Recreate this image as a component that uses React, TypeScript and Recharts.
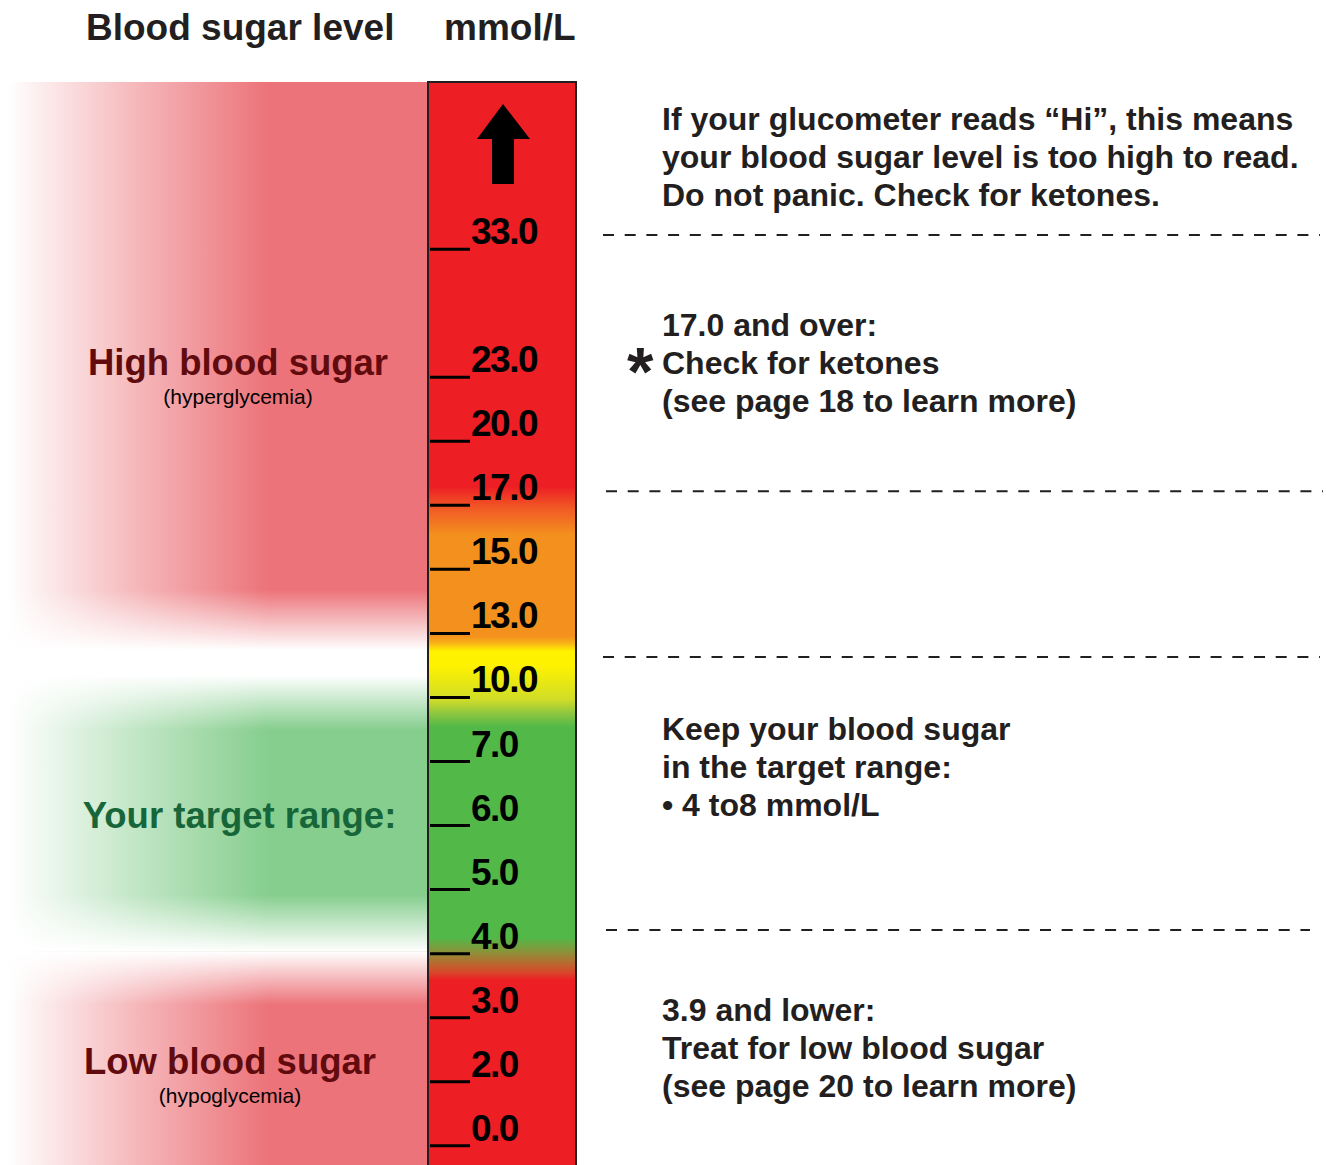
import React from 'react';
import {
  ComposedChart,
  XAxis,
  YAxis,
  Scatter,
  ReferenceArea,
  ReferenceLine,
  ReferenceDot,
} from 'recharts';

// marks on the meter, evenly spaced (one empty slot between 23.0 and 33.0)
const LEVEL_LABELS = ['0.0', '2.0', '3.0', '4.0', '5.0', '6.0', '7.0', '10.0', '13.0', '15.0', '17.0', '20.0', '23.0', '33.0'];
const LEVEL_SLOTS = [0, 1, 2, 3, 4, 5, 6, 7, 8, 9, 10, 11, 12, 14];

const ZONE_TITLES = ['High blood sugar', 'Your target range:', 'Low blood sugar'];
const ZONE_SUBTITLES = ['(hyperglycemia)', '', '(hypoglycemia)'];
const ZONE_FROM = [7.74, 3.03, -0.3];
const ZONE_TO = [16.61, 7.35, 3.03];

const SEPARATORS = [14.22, 10.22, 7.63, 3.37];

const NOTES = [
  ['If your glucometer reads “Hi”, this means', 'your blood sugar level is too high to read.', 'Do not panic. Check for ketones.'],
  ['17.0 and over:', '*Check for ketones', '(see page 18 to learn more)'],
  ['Keep your blood sugar', 'in the target range:', '• 4 to8 mmol/L'],
  ['3.9 and lower:', 'Treat for low blood sugar', '(see page 20 to learn more)'],
];

// meter colour, from top to bottom
const METER_SLOTS = [16.61, 10.29, 9.95, 9.54, 7.96, 7.86, 7.72, 7.5, 6.96, 6.75, 6.54, 3.25, 3.01, 2.82, 2.7, 2.59, -0.4];
const METER_COLORS = ['#ED1F24', '#ED1F24', '#F15A25', '#F3901E', '#F3901E', '#F9AE18', '#FFF200', '#FFF200', '#CFDC28', '#8DC63F', '#52B848', '#52B848', '#8F8F38', '#C0622D', '#D9452A', '#ED1F24', '#ED1F24'];

const W = 1326;
const H = 1165;
const Y_DOMAIN: [number, number] = [-0.3, 17.89];
const FONT = '"Liberation Sans", Arial, Helvetica, sans-serif';
const INK = '#231F20';

const METER_LEFT = 428;
const METER_RIGHT = 576;
const BAND_LEFT = 8;
const ZONE_FILL = ['#EC7379', '#86CE8E', '#EC7379'];
const ZONE_INK = ['#620B0E', '#17663A', '#620B0E'];
const ZONE_LABEL_X = [238, 239.5, 230];
const ZONE_LABEL_AT = [12.03, 4.96, 1.12];
const NOTE_X = 662;
const NOTE_AT = [15.86, 12.64, 6.33, 1.95];
const SEP_SPANS = [[603, 1320], [606, 1323], [603, 1320], [606, 1310]];

const tickRows = LEVEL_LABELS.map((label, i) => ({ x: METER_LEFT + 2, slot: LEVEL_SLOTS[i], label }));

const TickMark = (props: any) => {
  const { cx, cy, payload } = props;
  return (
    <g>
      <line x1={cx} x2={cx + 40} y1={cy} y2={cy} stroke="#000" strokeWidth={3} />
      <text x={cx + 41} y={cy - 5} fontFamily={FONT} fontWeight="bold" fontSize={37} letterSpacing={-1.5} fill="#000">
        {payload.label}
      </text>
    </g>
  );
};

const Arrow = (props: any) => {
  const { cx, cy } = props;
  const pts = [
    [cx, cy - 40], [cx + 27, cy - 5], [cx + 11, cy - 5], [cx + 11, cy + 40],
    [cx - 11, cy + 40], [cx - 11, cy - 5], [cx - 26, cy - 5],
  ].map((p) => p.join(',')).join(' ');
  return <polygon points={pts} fill="#000" />;
};

const headerText = (text: string) => (props: any) => (
  <text x={props.cx} y={props.cy} fontFamily={FONT} fontWeight="bold" fontSize={37} fill={INK}>
    {text}
  </text>
);

const zoneLabel = (i: number) => (props: any) => (
  <g>
    <text x={props.cx} y={props.cy} textAnchor="middle" fontFamily={FONT} fontWeight="bold" fontSize={36.5} fill={ZONE_INK[i]}>
      {ZONE_TITLES[i]}
    </text>
    {ZONE_SUBTITLES[i] && (
      <text x={props.cx} y={props.cy + 29} textAnchor="middle" fontFamily={FONT} fontSize={21} fill="#000">
        {ZONE_SUBTITLES[i]}
      </text>
    )}
  </g>
);

const noteBlock = (lines: string[]) => (props: any) => (
  <g>
    {lines.map((line, j) => {
      const starred = line.startsWith('*');
      return (
        <g key={j}>
          {starred && (
            <text x={props.cx - 35} y={props.cy + j * 38 + 21} fontFamily={FONT} fontWeight="bold" fontSize={68} fill={INK}>
              *
            </text>
          )}
          <text x={props.cx} y={props.cy + j * 38} fontFamily={FONT} fontWeight="bold" fontSize={32} fill={INK}>
            {starred ? line.slice(1) : line}
          </text>
        </g>
      );
    })}
  </g>
);

export default function App() {
  const meterTop = METER_SLOTS[0];
  const meterBottom = METER_SLOTS[METER_SLOTS.length - 1];
  return (
    <div style={{ position: 'absolute', left: 0, top: 0, background: '#fff' }}>
      <ComposedChart width={W} height={H} margin={{ top: 0, right: 0, bottom: 0, left: 0 }}>
        <defs>
          <linearGradient id="meter" x1="0" y1="0" x2="0" y2="1">
            {METER_SLOTS.map((s, i) => (
              <stop key={i} offset={(meterTop - s) / (meterTop - meterBottom)} stopColor={METER_COLORS[i]} />
            ))}
          </linearGradient>
          {ZONE_FILL.map((c, i) => (
            <linearGradient key={i} id={`zone${i}`} x1="0" y1="0" x2="1" y2="0">
              <stop offset={0} stopColor={c} stopOpacity={0} />
              <stop offset={0.3} stopColor={c} stopOpacity={0.5} />
              <stop offset={0.62} stopColor={c} stopOpacity={1} />
              <stop offset={1} stopColor={c} stopOpacity={1} />
            </linearGradient>
          ))}
          <linearGradient id="fadeDown" x1="0" y1="0" x2="0" y2="1">
            <stop offset={0} stopColor="#fff" stopOpacity={0} />
            <stop offset={1} stopColor="#fff" stopOpacity={1} />
          </linearGradient>
          <linearGradient id="fadeUp" x1="0" y1="0" x2="0" y2="1">
            <stop offset={0} stopColor="#fff" stopOpacity={1} />
            <stop offset={1} stopColor="#fff" stopOpacity={0} />
          </linearGradient>
        </defs>
        <XAxis type="number" dataKey="x" domain={[0, W]} hide allowDataOverflow />
        <YAxis type="number" dataKey="slot" domain={Y_DOMAIN} hide allowDataOverflow />

        {ZONE_TITLES.map((_, i) => (
          <ReferenceArea
            key={`z${i}`}
            x1={BAND_LEFT}
            x2={METER_LEFT}
            y1={ZONE_FROM[i]}
            y2={ZONE_TO[i]}
            fill={`url(#zone${i})`}
            fillOpacity={1}
            stroke="none"
          />
        ))}
        {/* soft edges of the zones */}
        <ReferenceArea x1={BAND_LEFT} x2={METER_LEFT} y1={7.74} y2={8.68} fill="url(#fadeDown)" fillOpacity={1} stroke="none" />
        <ReferenceArea x1={BAND_LEFT} x2={METER_LEFT} y1={6.49} y2={7.35} fill="url(#fadeUp)" fillOpacity={1} stroke="none" />
        <ReferenceArea x1={BAND_LEFT} x2={METER_LEFT} y1={3.03} y2={3.92} fill="url(#fadeDown)" fillOpacity={1} stroke="none" />
        <ReferenceArea x1={BAND_LEFT} x2={METER_LEFT} y1={2.2} y2={3.03} fill="url(#fadeUp)" fillOpacity={1} stroke="none" />

        <ReferenceArea
          x1={METER_LEFT}
          x2={METER_RIGHT}
          y1={meterBottom}
          y2={meterTop}
          ifOverflow="hidden"
          fill="url(#meter)"
          fillOpacity={1}
          stroke={INK}
          strokeWidth={2}
        />
        <ReferenceDot x={503} y={15.64} r={1} shape={Arrow} />

        {SEPARATORS.map((s, i) => (
          <ReferenceLine
            key={`s${i}`}
            segment={[{ x: SEP_SPANS[i][0], y: s }, { x: SEP_SPANS[i][1], y: s }]}
            stroke={INK}
            strokeWidth={2}
            strokeDasharray="11 10.7"
          />
        ))}

        <ReferenceDot x={86} y={17.26} r={1} shape={headerText('Blood sugar level')} />
        <ReferenceDot x={444} y={17.26} r={1} shape={headerText('mmol/L')} />

        {ZONE_TITLES.map((_, i) => (
          <ReferenceDot key={`l${i}`} x={ZONE_LABEL_X[i]} y={ZONE_LABEL_AT[i]} r={1} shape={zoneLabel(i)} />
        ))}
        {NOTES.map((lines, i) => (
          <ReferenceDot key={`n${i}`} x={NOTE_X} y={NOTE_AT[i]} r={1} shape={noteBlock(lines)} />
        ))}

        <Scatter data={tickRows} dataKey="slot" isAnimationActive={false} shape={TickMark} />
      </ComposedChart>
    </div>
  );
}
